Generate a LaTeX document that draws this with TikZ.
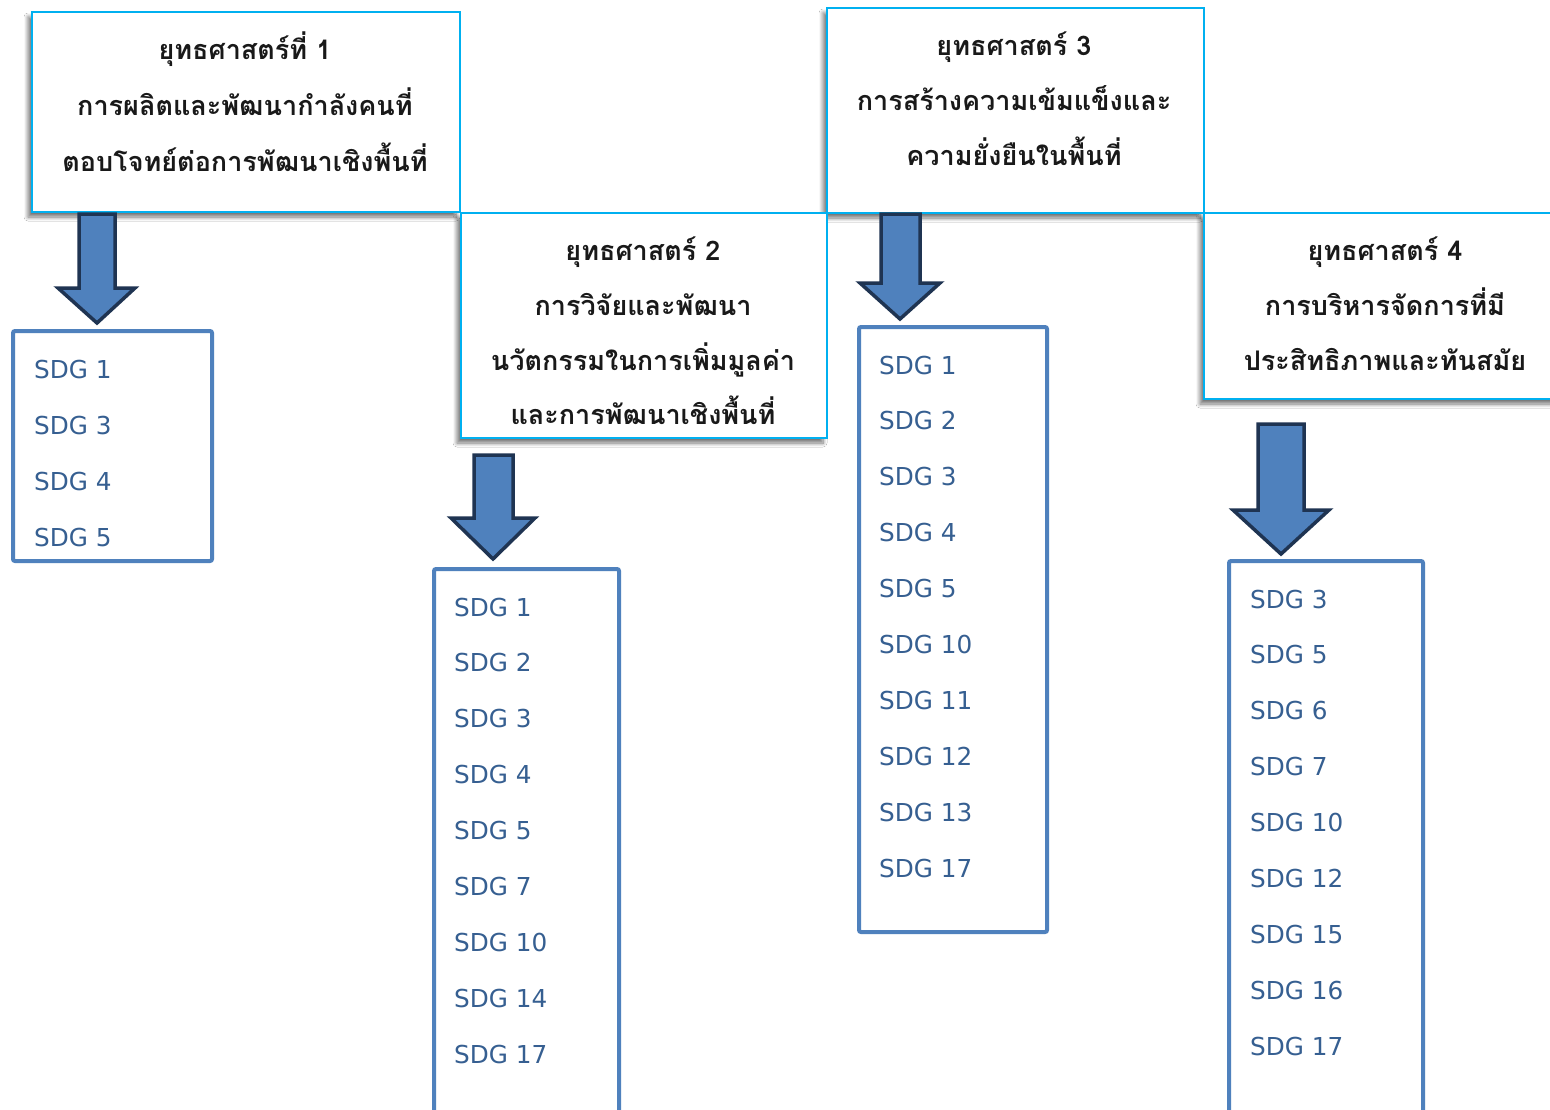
\documentclass[tikz,border=0pt]{standalone}
\usepackage{fontspec}
\usetikzlibrary{shadows,shadows.blur}
\newfontfamily\thaifont[Script=Thai]{Loma}
\newfontfamily\sdgfont{DejaVu Sans}
\definecolor{hdrline}{RGB}{0,176,240}
\definecolor{boxblue}{RGB}{79,129,189}
\definecolor{navy}{RGB}{31,52,82}
\definecolor{sdgtext}{RGB}{54,95,145}
\tikzset{
  hdr/.style={draw=hdrline, line width=2pt, fill=white, anchor=north west, inner sep=0pt,
    blur shadow={shadow xshift=-4pt, shadow yshift=-5pt, shadow blur steps=8, shadow blur radius=4pt, shadow opacity=55}},
  hdrtext/.style={anchor=base, inner sep=0pt, font=\thaifont\bfseries\fontsize{27}{32}\selectfont, text=black!90},
  sdgbox/.style={draw=boxblue, line width=4pt, rounded corners=2pt, fill=white, anchor=north west, inner sep=0pt},
  sdgitem/.style={anchor=base west, inner sep=0pt, font=\sdgfont\fontsize{24.7}{30}\selectfont, text=sdgtext},
  blockarrow/.style={fill=boxblue, draw=navy, line width=3.5pt, line join=miter}
}
\begin{document}
\begin{tikzpicture}[x=1pt,y=-1pt]
\useasboundingbox[fill=white] (0,0) rectangle (1550,1109);
% header boxes
\node[hdr, minimum width=428pt, minimum height=200pt] (h1) at (31,11) {};
\node[hdr, minimum width=377pt, minimum height=205pt] (h3) at (826,7) {};
\node[hdr, minimum width=366pt, minimum height=225pt] (h2) at (460,212) {};
\node[hdr, minimum width=370pt, minimum height=186pt] (h4) at (1203,212) {};
% header texts
\node[hdrtext] (h1a) at (245,59) {ยุทธศาสตร์ที่ 1};
\node[hdrtext] (h1b) at (245,115) {การผลิตและพัฒนากำลังคนที่};
\node[hdrtext] (h1c) at (245,171) {ตอบโจทย์ต่อการพัฒนาเชิงพื้นที่};
\node[hdrtext] (h2a) at (643,260) {ยุทธศาสตร์ 2};
\node[hdrtext] (h2b) at (643,315) {การวิจัยและพัฒนา};
\node[hdrtext] (h2c) at (643,370) {นวัตกรรมในการเพิ่มมูลค่า};
\node[hdrtext] (h2d) at (643,424) {และการพัฒนาเชิงพื้นที่};
\node[hdrtext] (h3a) at (1014,55) {ยุทธศาสตร์ 3};
\node[hdrtext] (h3b) at (1014,110) {การสร้างความเข้มแข็งและ};
\node[hdrtext] (h3c) at (1014,165) {ความยั่งยืนในพื้นที่};
\node[hdrtext] (h4a) at (1385,260) {ยุทธศาสตร์ 4};
\node[hdrtext] (h4b) at (1385,315) {การบริหารจัดการที่มี};
\node[hdrtext] (h4c) at (1385,370) {ประสิทธิภาพและทันสมัย};
% SDG boxes
\node[sdgbox, minimum width=199pt, minimum height=230pt] (s1) at (11,329) {};
\node[sdgbox, minimum width=185pt, minimum height=560pt] (s2) at (432,567) {};
\node[sdgbox, minimum width=188pt, minimum height=605pt] (s3) at (857,325) {};
\node[sdgbox, minimum width=194pt, minimum height=560pt] (s4) at (1227,559) {};
% SDG items
\foreach \t [count=\i] in {1,3,4,5}
  \node[sdgitem] (s1i\i) at (34,{378+56*(\i-1)}) {SDG \t};
\foreach \t [count=\i] in {1,2,3,4,5,7,10,14,17}
  \node[sdgitem] (s2i\i) at (454,{616+55.9*(\i-1)}) {SDG \t};
\foreach \t [count=\i] in {1,2,3,4,5,10,11,12,13,17}
  \node[sdgitem] (s3i\i) at (879,{374+55.9*(\i-1)}) {SDG \t};
\foreach \t [count=\i] in {3,5,6,7,10,12,15,16,17}
  \node[sdgitem] (s4i\i) at (1250,{608+55.9*(\i-1)}) {SDG \t};
% block arrows
\draw[blockarrow] (79,214) -- (115,214) -- (115,288) -- (135,288) -- (97,323) -- (58,288) -- (79,288) -- cycle;
\draw[blockarrow] (474,455) -- (513,455) -- (513,518) -- (535,518) -- (493,559) -- (451,518) -- (474,518) -- cycle;
\draw[blockarrow] (881,214) -- (920,214) -- (920,283) -- (940,283) -- (900,319) -- (860,283) -- (881,283) -- cycle;
\draw[blockarrow] (1258,424) -- (1304,424) -- (1304,510) -- (1329,510) -- (1281,554) -- (1233,510) -- (1258,510) -- cycle;
\end{tikzpicture}
\end{document}
